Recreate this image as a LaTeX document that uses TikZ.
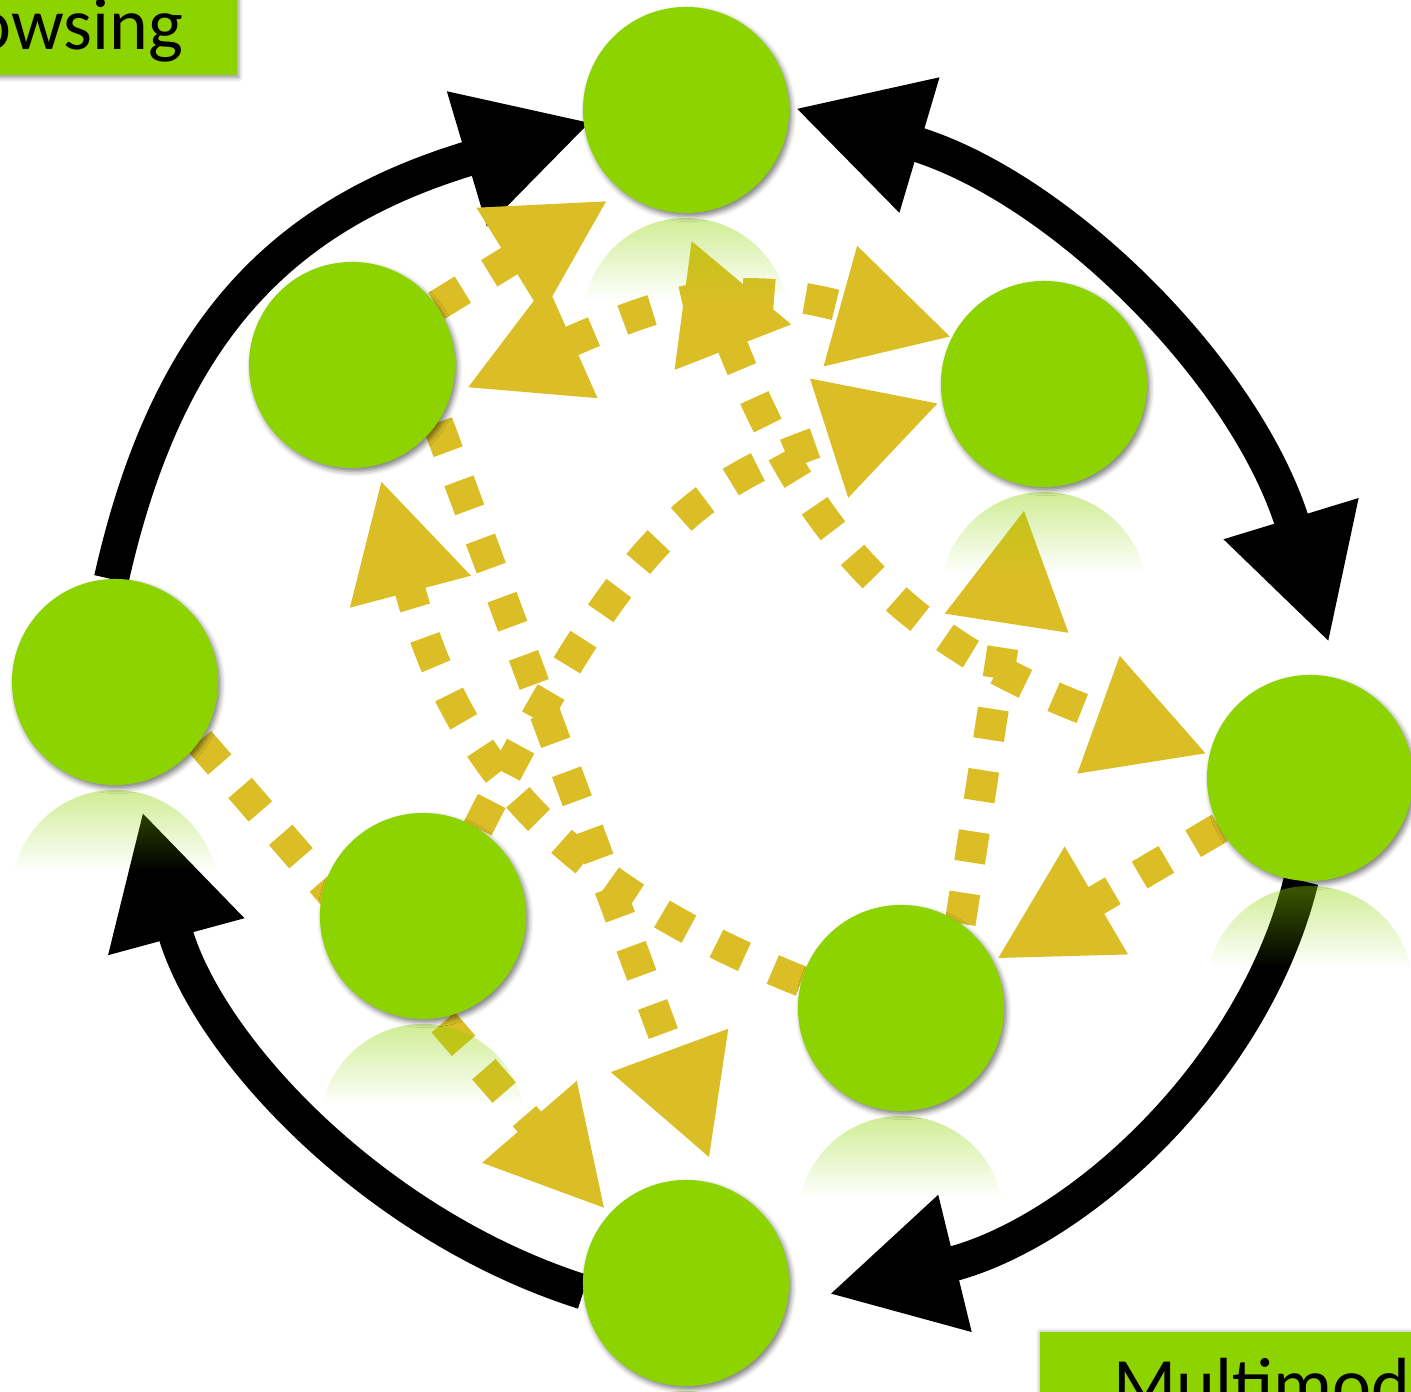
\documentclass[tikz,border=0pt]{standalone}
\usepackage{fontspec}
\newfontfamily\labelfont{Carlito}
\usetikzlibrary{arrows.meta,shadows.blur,fadings,calc}
\definecolor{nodegreen}{RGB}{141,211,0}
\definecolor{dotyellow}{RGB}{219,190,38}
\tikzfading[name=reflfade, top color=transparent!58, bottom color=transparent!100]
\begin{document}
\begin{tikzpicture}[x=0.01cm, y=-0.01cm,
  refball/.style={circle, minimum size=2.06cm, inner sep=0pt, outer sep=0pt},
  ballfill/.style={fill=nodegreen,
    blur shadow={shadow xshift=0.025cm, shadow yshift=-0.035cm, shadow blur radius=0.05cm, shadow opacity=50}},
  ringarrow/.style={line width=0.35cm, black, -{Triangle[length=1.3cm, width=1.31cm]}},
  ringboth/.style={line width=0.35cm, black, {Triangle[length=1.3cm, width=1.31cm]}-{Triangle[length=1.3cm, width=1.31cm]}},
  dotarrow/.style={line width=0.31cm, dotyellow, dash pattern=on 0.31cm off 0.31cm, -{Triangle[length=1.16cm, width=1.16cm]}},
  dotboth/.style={line width=0.31cm, dotyellow, dash pattern=on 0.31cm off 0.31cm, {Triangle[length=1.16cm, width=1.16cm]}-{Triangle[length=1.16cm, width=1.16cm]}},
  labelbox/.style={fill=nodegreen},
  labeltext/.style={font=\labelfont\fontsize{21pt}{25pt}\selectfont, text=black, inner sep=0pt, anchor=base west}
]
\useasboundingbox (0,0) rectangle (1411,1392);

% the eight circle nodes (their green discs are painted further below, above the arrows)
\node[refball] (T)  at (686,110)  {};
\node[refball] (UL) at (352,365)  {};
\node[refball] (UR) at (1044,384) {};
\node[refball] (L)  at (115,682)  {};
\node[refball] (R)  at (1310,778) {};
\node[refball] (LL) at (423,916)  {};
\node[refball] (LR) at (901,1008) {};
\node[refball] (B)  at (686,1283) {};

% outer black ring arrows
\draw[ringarrow, shorten >=-0.08cm] (L.92) .. controls +(57,-254) and +(-297,88) .. (T.188);
\draw[ringboth, shorten <=0.06cm, shorten >=0.38cm] (T.2.6) .. controls +(270,80) and +(-94,-308) .. (R.73);
\draw[ringarrow, shorten >=0.43cm] (R.-95) .. controls +(-48,195) and +(287,-70) .. (B.-12);
\draw[ringarrow, shorten >=0.29cm] (B.185) .. controls +(-211,-67) and +(71,262) .. (L.-79);

% inner yellow dotted arrows
\draw[dotarrow, shorten >=0.17cm] (UL.35) -- (T.-128);
\draw[dotboth, shorten <=0.17cm] (UL.-17) .. controls +(220,-98) and +(-212,-59) .. (UR.153);
\draw[dotboth, shorten <=0.28cm, shorten >=0.02cm] (T.-93) .. controls +(127,326) and +(-302,-109) .. (R.167.3);
\draw[dotarrow, shorten >=0.03cm] (LL.58) .. controls +(142,-280) and +(-253,81) .. (UR.190);
\draw[dotarrow, shorten >=0.15cm] (LR.165) .. controls +(-241,-96) and +(78,295) .. (UL.-76.8);
\draw[dotarrow, shorten >=0.28cm] (UL.-34) -- (B.71);
\draw[dotarrow, shorten >=0.23cm] (LR.55) -- (UR.-99.6);
\draw[dotarrow, shorten >=0.04cm] (R.209) -- (LR.27.8);
\draw[dotarrow, shorten >=0.06cm] (L.-35) -- (B.138);

% faint mirror reflections under the circles
\foreach \n in {T,UR,L,R,LL,LR,B} {
  \begin{scope}
    \clip ($(\n)+(0,211)$) circle[radius=1.03cm];
    \fill[nodegreen, path fading=reflfade] ($(\n)+(-105,108)$) rectangle ($(\n)+(105,190)$);
  \end{scope}
}

% green discs
\foreach \n in {T,UL,UR,L,R,LL,LR,B} {
  \fill[ballfill] (\n) circle[radius=1.03cm];
}

% label boxes
\path[labelbox, blur shadow={shadow xshift=0.02cm, shadow yshift=-0.03cm, shadow blur radius=0.04cm, shadow opacity=40}] (-60,-60) rectangle (237,75);
\node[labeltext] (browsing) at (-28,50) {owsing};
\path[labelbox, blur shadow={shadow xshift=0cm, shadow yshift=0cm, shadow blur radius=0.04cm, shadow opacity=35}] (1040,1332) rectangle (1480,1460);
\node[labeltext] (multimod) at (1113,1410) {Multimod};
\end{tikzpicture}
\end{document}
